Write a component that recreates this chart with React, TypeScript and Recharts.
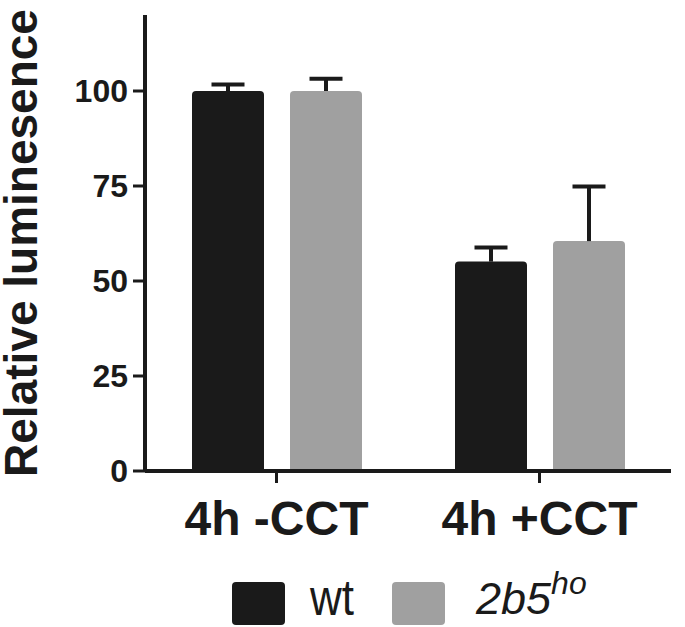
import React from 'react';
import { BarChart, Bar, XAxis, YAxis, Legend, Rectangle, Label } from 'recharts';

const categories = ['4h -CCT', '4h +CCT'];
const wtValues = [100, 55.1];
const wtErrors = [1.7, 3.7];
const hoValues = [100, 60.5];
const hoErrors = [3.2, 14.4];
const yTicks = [0, 25, 50, 75, 100];
const seriesNames = ['wt', '2b5'];
const seriesSup = ['', 'ho'];
const seriesColors = ['#1a1a1a', '#a0a0a0'];

const data = categories.map((c, i) => ({
  name: c,
  wt: wtValues[i],
  wtErr: wtErrors[i],
  ho: hoValues[i],
  hoErr: hoErrors[i],
}));

const INK = '#1a1a1a';

const makeShape = (valueKey: string, errKey: string) => (props: any) => {
  const { x, y, width, height, fill, payload } = props;
  const v = payload[valueKey];
  const err = payload[errKey];
  const pxPerUnit = v ? height / v : 0;
  const top = y - err * pxPerUnit;
  const cx = x + width / 2;
  const capHalf = 16.5;
  return (
    <g>
      <Rectangle x={x} y={y} width={width} height={height} fill={fill} radius={[4, 4, 0, 0]} />
      <line x1={cx} y1={y} x2={cx} y2={top} stroke={INK} strokeWidth={4} />
      <line x1={cx - capHalf} y1={top} x2={cx + capHalf} y2={top} stroke={INK} strokeWidth={4} />
    </g>
  );
};

const YLabel = (props: any) => {
  const { viewBox } = props;
  const cx = 37;
  const cy = viewBox.y + viewBox.height / 2;
  return (
    <text
      x={cx}
      y={cy}
      transform={`rotate(-90, ${cx}, ${cy})`}
      textAnchor="middle"
      fontFamily="'Liberation Sans', Arial, sans-serif"
      fontWeight="bold"
      fontSize={46}
      fill={INK}
    >
      Relative luminesence
    </text>
  );
};

const renderLegend = () => {
  return (
    <div style={{ position: 'relative', width: 685, height: 50 }}>
      <div style={{ position: 'absolute', left: 232, top: 4, width: 53, height: 43, background: seriesColors[0], borderRadius: 4 }} />
      <span
        style={{
          position: 'absolute',
          left: 310,
          top: -7,
          fontFamily: "'Liberation Sans', Arial, sans-serif",
          fontSize: 50,
          lineHeight: '55px',
          color: INK,
          transform: 'scaleX(0.88)',
          transformOrigin: 'left center',
          whiteSpace: 'nowrap',
        }}
      >
        {seriesNames[0]}
      </span>
      <div style={{ position: 'absolute', left: 392, top: 4, width: 53, height: 43, background: seriesColors[1], borderRadius: 4 }} />
      <span
        style={{
          position: 'absolute',
          left: 476,
          top: -7,
          fontFamily: "'Liberation Sans', Arial, sans-serif",
          fontSize: 45,
          fontStyle: 'italic',
          lineHeight: '55px',
          color: INK,
          whiteSpace: 'nowrap',
        }}
      >
        {seriesNames[1]}
        <span style={{ fontSize: 32, position: 'relative', top: -20 }}>{seriesSup[1]}</span>
      </span>
    </div>
  );
};

export default function App() {
  return (
    <div style={{ position: 'absolute', left: 0, top: 0, background: '#fff' }}>
      <BarChart
        width={685}
        height={627}
        data={data}
        margin={{ top: 15, right: 14, bottom: 0, left: 0 }}
        barSize={72}
        barGap={26}
      >
        <XAxis
          dataKey="name"
          height={156}
          axisLine={{ stroke: INK, strokeWidth: 4 }}
          tickLine={{ stroke: INK, strokeWidth: 3 }}
          tickSize={12}
          tickMargin={18}
          tick={{ fill: INK, fontSize: 48, fontWeight: 'bold', fontFamily: "'Liberation Sans', Arial, sans-serif" }}
          interval={0}
        />
        <YAxis
          width={145}
          domain={[0, 120]}
          ticks={yTicks}
          allowDataOverflow
          axisLine={{ stroke: INK, strokeWidth: 4 }}
          tickLine={{ stroke: INK, strokeWidth: 3 }}
          tickSize={12}
          tickMargin={5}
          tick={{ fill: INK, fontSize: 32, fontWeight: 'bold', fontFamily: "'Liberation Sans', Arial, sans-serif" }}
        >
          <Label content={<YLabel />} />
        </YAxis>
        <Legend
          verticalAlign="middle"
          align="center"
          layout="horizontal"
          content={renderLegend}
          wrapperStyle={{ top: 578, left: 0, width: 685, height: 50 }}
        />
        <Bar dataKey="wt" name={seriesNames[0]} fill={seriesColors[0]} isAnimationActive={false} shape={makeShape('wt', 'wtErr')} />
        <Bar dataKey="ho" name={seriesNames[1]} fill={seriesColors[1]} isAnimationActive={false} shape={makeShape('ho', 'hoErr')} />
      </BarChart>
    </div>
  );
}
